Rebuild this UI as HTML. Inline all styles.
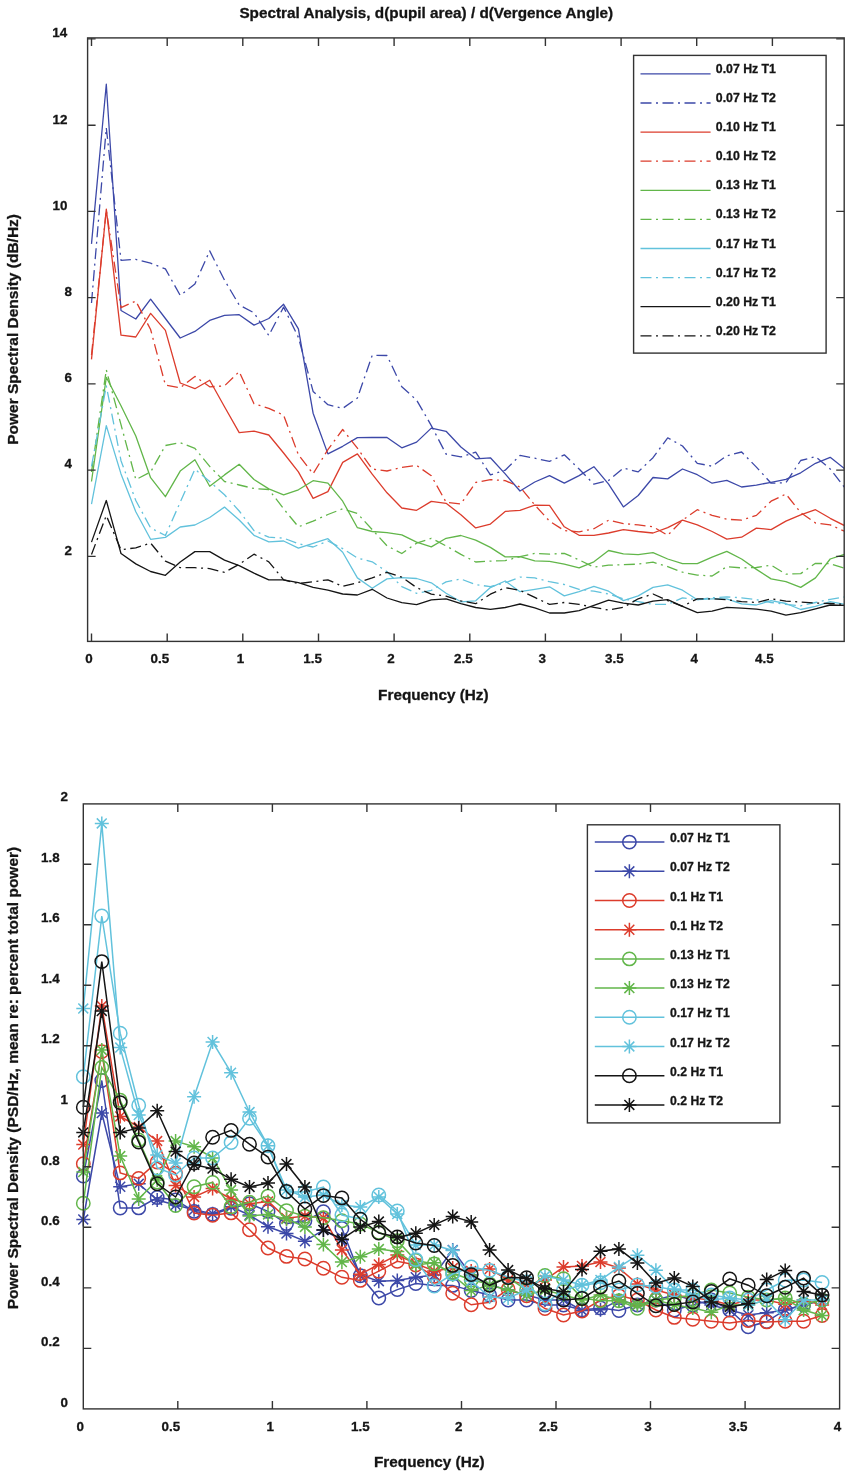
<!DOCTYPE html><html><head><meta charset="utf-8"><title>Spectral Analysis</title><style>html,body{margin:0;padding:0;background:#fff;width:851px;height:1478px;overflow:hidden}svg{display:block;will-change:transform}text{font-family:"Liberation Sans",sans-serif;font-weight:bold;fill:#141414;stroke:#141414;stroke-width:0.3px}</style></head><body>
<svg width="851" height="1478" viewBox="0 0 851 1478">
<rect width="851" height="1478" fill="#fff"/>
<defs><clipPath id="c1"><rect x="87.6" y="37.9" width="756.6" height="603.5"/></clipPath>
<clipPath id="c2"><rect x="75.3" y="795.9" width="772.3000000000001" height="621.0000000000001"/></clipPath></defs>
<g clip-path="url(#c1)" fill="none" stroke-width="1.3" stroke-linejoin="round">
<polyline stroke="#3c48a8" points="91.5,243.9 106.3,84.2 121.0,310.5 135.8,319.0 150.6,299.2 165.4,318.5 180.2,338.0 194.9,331.4 209.7,320.4 224.5,315.3 239.2,314.7 254.0,325.1 268.8,318.5 283.6,304.3 298.4,328.9 313.1,413.2 327.9,453.9 342.7,446.3 357.4,437.6 372.2,437.3 387.0,437.5 401.8,447.8 416.6,442.1 431.3,428.1 446.1,431.3 460.9,447.0 475.7,458.8 490.4,457.8 505.2,473.9 520.0,491.0 534.8,482.0 549.5,475.6 564.3,483.2 579.1,475.6 593.9,466.7 608.6,484.2 623.4,506.9 638.2,495.5 653.0,477.5 667.7,478.9 682.5,469.0 697.3,474.7 712.1,483.2 726.8,480.4 741.6,487.0 756.4,485.1 771.1,482.3 785.9,479.4 800.7,472.8 815.5,463.3 830.2,457.3 845.0,469.0"/>
<polyline stroke="#3c48a8" stroke-dasharray="11 4.5 2 4.5" points="91.5,303.0 106.3,127.8 121.0,260.3 135.8,259.4 150.6,263.2 165.4,268.9 180.2,295.4 194.9,284.0 209.7,250.9 224.5,280.2 239.2,305.0 254.0,312.8 268.8,335.5 283.6,307.1 298.4,337.4 313.1,391.4 327.9,404.7 342.7,408.4 357.4,398.0 372.2,355.4 387.0,355.5 401.8,386.8 416.6,400.1 431.3,425.6 446.1,454.1 460.9,456.9 475.7,452.2 490.4,474.9 505.2,470.2 520.0,455.4 534.8,458.2 549.5,461.4 564.3,454.8 579.1,469.0 593.9,484.2 608.6,480.4 623.4,468.1 638.2,471.9 653.0,457.7 667.7,437.8 682.5,446.0 697.3,463.3 712.1,466.2 726.8,455.8 741.6,452.0 756.4,467.1 771.1,483.2 785.9,482.7 800.7,460.5 815.5,456.7 830.2,469.0 845.0,488.0"/>
<polyline stroke="#dc3c2c" points="91.5,359.4 106.3,209.2 121.0,335.2 135.8,337.0 150.6,313.4 165.4,330.4 180.2,383.0 194.9,388.7 209.7,380.2 224.5,406.7 239.2,432.6 254.0,431.2 268.8,435.0 283.6,453.0 298.4,471.9 313.1,498.4 327.9,491.6 342.7,462.4 357.4,453.9 372.2,474.2 387.0,492.8 401.8,508.0 416.6,510.3 431.3,501.4 446.1,503.3 460.9,514.7 475.7,527.9 490.4,524.1 505.2,511.4 520.0,510.3 534.8,505.1 549.5,505.4 564.3,526.8 579.1,535.3 593.9,535.3 608.6,533.0 623.4,529.6 638.2,531.5 653.0,533.0 667.7,527.7 682.5,520.2 697.3,524.9 712.1,531.5 726.8,539.1 741.6,537.2 756.4,528.1 771.1,529.6 785.9,521.1 800.7,514.8 815.5,509.7 830.2,518.3 845.0,525.8"/>
<polyline stroke="#dc3c2c" stroke-dasharray="11 4.5 2 4.5" points="91.5,355.0 106.3,210.0 121.0,307.7 135.8,301.0 150.6,329.5 165.4,385.0 180.2,387.8 194.9,376.4 209.7,386.8 224.5,385.9 239.2,371.6 254.0,403.7 268.8,408.4 283.6,415.1 298.4,454.8 313.1,473.8 327.9,449.6 342.7,429.5 357.4,448.2 372.2,469.0 387.0,471.0 401.8,467.3 416.6,465.4 431.3,475.8 446.1,502.3 460.9,503.9 475.7,482.5 490.4,479.6 505.2,480.6 520.0,487.0 534.8,505.0 549.5,521.1 564.3,530.6 579.1,531.9 593.9,528.7 608.6,520.2 623.4,523.6 638.2,524.9 653.0,526.8 667.7,535.3 682.5,520.2 697.3,509.7 712.1,515.4 726.8,519.2 741.6,520.2 756.4,515.4 771.1,501.2 785.9,494.0 800.7,512.6 815.5,523.0 830.2,524.9 845.0,531.5"/>
<polyline stroke="#62b64a" points="91.5,481.5 106.3,377.3 121.0,405.8 135.8,436.0 150.6,477.7 165.4,496.7 180.2,471.1 194.9,459.7 209.7,486.3 224.5,474.9 239.2,464.3 254.0,479.5 268.8,488.9 283.6,494.9 298.4,489.8 313.1,480.7 327.9,483.2 342.7,501.2 357.4,527.7 372.2,531.5 387.0,532.6 401.8,534.9 416.6,542.1 431.3,546.9 446.1,538.3 460.9,535.5 475.7,540.2 490.4,547.4 505.2,556.9 520.0,556.7 534.8,560.9 549.5,561.4 564.3,564.1 579.1,567.9 593.9,561.8 608.6,550.5 623.4,553.9 638.2,554.6 653.0,552.7 667.7,559.0 682.5,563.7 697.3,563.7 712.1,557.1 726.8,551.4 741.6,559.0 756.4,569.4 771.1,578.9 785.9,581.7 800.7,587.4 815.5,577.9 830.2,559.0 845.0,554.2"/>
<polyline stroke="#62b64a" stroke-dasharray="11 4.5 2 4.5" points="91.5,472.0 106.3,369.8 121.0,424.7 135.8,479.6 150.6,472.0 165.4,445.5 180.2,442.7 194.9,448.4 209.7,466.4 224.5,481.5 239.2,485.0 254.0,488.5 268.8,489.5 283.6,508.8 298.4,526.8 313.1,521.1 327.9,514.5 342.7,508.8 357.4,513.5 372.2,529.6 387.0,545.8 401.8,553.5 416.6,543.1 431.3,538.3 446.1,545.9 460.9,554.4 475.7,562.0 490.4,561.1 505.2,560.7 520.0,556.6 534.8,553.4 549.5,554.2 564.3,553.3 579.1,559.9 593.9,567.1 608.6,565.2 623.4,564.7 638.2,564.1 653.0,562.2 667.7,566.6 682.5,572.2 697.3,575.1 712.1,576.0 726.8,566.6 741.6,567.9 756.4,567.5 771.1,565.2 785.9,574.1 800.7,573.6 815.5,563.3 830.2,563.7 845.0,568.4"/>
<polyline stroke="#62c2dc" points="91.5,504.2 106.3,425.6 121.0,473.9 135.8,511.8 150.6,539.3 165.4,537.4 180.2,527.0 194.9,525.0 209.7,517.5 224.5,507.1 239.2,520.0 254.0,535.3 268.8,541.9 283.6,541.0 298.4,548.2 313.1,543.3 327.9,538.7 342.7,552.3 357.4,577.9 372.2,588.3 387.0,578.9 401.8,577.7 416.6,578.5 431.3,582.8 446.1,593.3 460.9,601.8 475.7,600.8 490.4,587.6 505.2,581.0 520.0,591.7 534.8,589.3 549.5,586.8 564.3,595.9 579.1,591.7 593.9,586.4 608.6,591.2 623.4,600.6 638.2,595.9 653.0,587.4 667.7,584.9 682.5,590.2 697.3,599.7 712.1,598.8 726.8,598.8 741.6,603.9 756.4,605.0 771.1,600.6 785.9,603.5 800.7,609.5 815.5,606.3 830.2,601.6 845.0,604.4"/>
<polyline stroke="#62c2dc" stroke-dasharray="11 4.5 2 4.5" points="91.5,466.4 106.3,385.9 121.0,460.7 135.8,500.5 150.6,527.9 165.4,535.5 180.2,502.3 194.9,469.2 209.7,481.5 224.5,494.8 239.2,511.0 254.0,530.6 268.8,537.2 283.6,538.1 298.4,543.8 313.1,547.0 327.9,541.0 342.7,548.6 357.4,558.0 372.2,561.8 387.0,571.8 401.8,586.6 416.6,593.3 431.3,590.4 446.1,581.9 460.9,579.0 475.7,584.7 490.4,586.6 505.2,582.8 520.0,577.1 534.8,577.9 549.5,581.7 564.3,584.5 579.1,589.3 593.9,591.2 608.6,594.0 623.4,598.8 638.2,601.6 653.0,604.4 667.7,604.4 682.5,597.8 697.3,599.7 712.1,597.8 726.8,596.8 741.6,597.8 756.4,599.7 771.1,602.5 785.9,604.4 800.7,605.8 815.5,602.5 830.2,599.3 845.0,596.8"/>
<polyline stroke="#151515" points="91.5,542.1 106.3,500.5 121.0,553.5 135.8,563.9 150.6,571.5 165.4,575.3 180.2,562.0 194.9,551.6 209.7,551.6 224.5,560.1 239.2,565.7 254.0,573.2 268.8,579.8 283.6,579.8 298.4,582.7 313.1,587.4 327.9,590.2 342.7,594.0 357.4,595.0 372.2,589.3 387.0,598.0 401.8,602.7 416.6,604.6 431.3,599.9 446.1,598.9 460.9,603.7 475.7,607.5 490.4,609.4 505.2,607.5 520.0,604.0 534.8,607.8 549.5,613.0 564.3,613.0 579.1,610.7 593.9,605.4 608.6,600.1 623.4,603.1 638.2,605.0 653.0,601.2 667.7,599.7 682.5,606.3 697.3,612.6 712.1,611.1 726.8,607.3 741.6,608.2 756.4,609.2 771.1,611.1 785.9,615.2 800.7,612.6 815.5,608.8 830.2,605.0 845.0,605.4"/>
<polyline stroke="#151515" stroke-dasharray="11 4.5 2 4.5" points="91.5,554.4 106.3,515.6 121.0,549.7 135.8,547.8 150.6,543.1 165.4,561.1 180.2,567.7 194.9,567.7 209.7,568.6 224.5,572.4 239.2,564.3 254.0,554.2 268.8,561.8 283.6,579.8 298.4,583.6 313.1,581.7 327.9,579.8 342.7,586.4 357.4,582.7 372.2,577.9 387.0,572.3 401.8,577.2 416.6,587.6 431.3,594.2 446.1,596.1 460.9,600.8 475.7,603.7 490.4,594.2 505.2,587.6 520.0,590.3 534.8,597.4 549.5,604.4 564.3,602.5 579.1,604.4 593.9,607.3 608.6,610.1 623.4,607.3 638.2,598.8 653.0,594.0 667.7,600.6 682.5,606.3 697.3,598.8 712.1,598.8 726.8,599.7 741.6,601.6 756.4,602.5 771.1,598.8 785.9,601.2 800.7,602.0 815.5,603.1 830.2,603.5 845.0,604.4"/>
</g>
<g stroke="#333333" stroke-width="1.4" fill="none">
<rect x="87.6" y="37.9" width="756.6" height="603.5"/>
<path d="M91.5,641.4v-8M91.5,37.9v8M167.2,641.4v-8M167.2,37.9v8M242.8,641.4v-8M242.8,37.9v8M318.5,641.4v-8M318.5,37.9v8M394.1,641.4v-8M394.1,37.9v8M469.8,641.4v-8M469.8,37.9v8M545.4,641.4v-8M545.4,37.9v8M621.1,641.4v-8M621.1,37.9v8M696.7,641.4v-8M696.7,37.9v8M772.4,641.4v-8M772.4,37.9v8M87.6,556.4h8M844.2,556.4h-8M87.6,470.1h8M844.2,470.1h-8M87.6,383.9h8M844.2,383.9h-8M87.6,297.6h8M844.2,297.6h-8M87.6,211.4h8M844.2,211.4h-8M87.6,125.2h8M844.2,125.2h-8M87.6,38.9h8M844.2,38.9h-8"/>
</g>
<text x="85.30" y="663.00" font-size="13.4">0</text>
<text x="150.60" y="663.00" font-size="13.4">0.5</text>
<text x="236.80" y="663.00" font-size="13.4">1</text>
<text x="303.30" y="663.00" font-size="13.4">1.5</text>
<text x="387.30" y="663.00" font-size="13.4">2</text>
<text x="454.00" y="663.00" font-size="13.4">2.5</text>
<text x="538.60" y="663.00" font-size="13.4">3</text>
<text x="605.00" y="663.00" font-size="13.4">3.5</text>
<text x="690.40" y="663.00" font-size="13.4">4</text>
<text x="755.10" y="663.00" font-size="13.4">4.5</text>
<text x="52.30" y="36.80" font-size="13.4">14</text>
<text x="52.60" y="123.60" font-size="13.4">12</text>
<text x="52.60" y="209.80" font-size="13.4">10</text>
<text x="64.60" y="295.90" font-size="13.4">8</text>
<text x="64.60" y="382.10" font-size="13.4">6</text>
<text x="64.60" y="468.40" font-size="13.4">4</text>
<text x="64.60" y="554.80" font-size="13.4">2</text>
<text x="239.40" y="17.60" font-size="15.3">Spectral Analysis, d(pupil area) / d(Vergence Angle)</text>
<text x="378.10" y="700.10" font-size="15.3">Frequency (Hz)</text>
<text transform="translate(18.3,444.8) rotate(-90)" x="0" y="0" font-size="15.5">Power Spectral Density (dB/Hz)</text>
<rect x="633.6" y="55.4" width="192.5" height="297.7" fill="#fff" stroke="#333333" stroke-width="1.4"/>
<line x1="640.5" y1="73.9" x2="710.6" y2="73.9" stroke="#3c48a8" stroke-width="1.3"/>
<text x="715.80" y="72.90" font-size="12.3">0.07 Hz T1</text>
<line x1="640.5" y1="103.0" x2="710.6" y2="103.0" stroke="#3c48a8" stroke-width="1.3" stroke-dasharray="11 4.5 2 4.5"/>
<text x="715.80" y="102.00" font-size="12.3">0.07 Hz T2</text>
<line x1="640.5" y1="132.1" x2="710.6" y2="132.1" stroke="#dc3c2c" stroke-width="1.3"/>
<text x="715.80" y="131.10" font-size="12.3">0.10 Hz T1</text>
<line x1="640.5" y1="161.2" x2="710.6" y2="161.2" stroke="#dc3c2c" stroke-width="1.3" stroke-dasharray="11 4.5 2 4.5"/>
<text x="715.80" y="160.20" font-size="12.3">0.10 Hz T2</text>
<line x1="640.5" y1="190.3" x2="710.6" y2="190.3" stroke="#62b64a" stroke-width="1.3"/>
<text x="715.80" y="189.30" font-size="12.3">0.13 Hz T1</text>
<line x1="640.5" y1="219.4" x2="710.6" y2="219.4" stroke="#62b64a" stroke-width="1.3" stroke-dasharray="11 4.5 2 4.5"/>
<text x="715.80" y="218.40" font-size="12.3">0.13 Hz T2</text>
<line x1="640.5" y1="248.5" x2="710.6" y2="248.5" stroke="#62c2dc" stroke-width="1.3"/>
<text x="715.80" y="247.50" font-size="12.3">0.17 Hz T1</text>
<line x1="640.5" y1="277.6" x2="710.6" y2="277.6" stroke="#62c2dc" stroke-width="1.3" stroke-dasharray="11 4.5 2 4.5"/>
<text x="715.80" y="276.60" font-size="12.3">0.17 Hz T2</text>
<line x1="640.5" y1="306.7" x2="710.6" y2="306.7" stroke="#151515" stroke-width="1.3"/>
<text x="715.80" y="305.70" font-size="12.3">0.20 Hz T1</text>
<line x1="640.5" y1="335.8" x2="710.6" y2="335.8" stroke="#151515" stroke-width="1.3" stroke-dasharray="11 4.5 2 4.5"/>
<text x="715.80" y="334.80" font-size="12.3">0.20 Hz T2</text>
<g clip-path="url(#c2)" fill="none" stroke-width="1.5">
<polyline stroke="#3c48a8" points="83.3,1176.0 101.8,1080.5 120.2,1208.0 138.7,1207.9 157.2,1197.5 175.6,1200.0 194.1,1211.4 212.6,1214.4 231.1,1208.3 249.5,1203.7 268.0,1211.4 286.5,1223.6 304.9,1220.8 323.4,1211.7 341.9,1228.5 360.3,1275.8 378.8,1298.0 397.3,1289.6 415.8,1283.6 434.2,1285.4 452.7,1285.4 471.2,1290.6 489.6,1295.0 508.1,1300.0 526.6,1300.0 545.0,1305.0 563.5,1305.0 582.0,1310.0 600.5,1308.0 618.9,1310.5 637.4,1305.0 655.9,1300.0 674.3,1310.0 692.8,1305.0 711.3,1300.0 729.7,1310.0 748.2,1326.8 766.7,1321.6 785.2,1309.9 803.6,1305.0 822.1,1300.0"/>
<circle cx="83.3" cy="1176.0" r="6.7" stroke="#3c48a8"/><circle cx="101.8" cy="1080.5" r="6.7" stroke="#3c48a8"/><circle cx="120.2" cy="1208.0" r="6.7" stroke="#3c48a8"/><circle cx="138.7" cy="1207.9" r="6.7" stroke="#3c48a8"/><circle cx="157.2" cy="1197.5" r="6.7" stroke="#3c48a8"/><circle cx="175.6" cy="1200.0" r="6.7" stroke="#3c48a8"/><circle cx="194.1" cy="1211.4" r="6.7" stroke="#3c48a8"/><circle cx="212.6" cy="1214.4" r="6.7" stroke="#3c48a8"/><circle cx="231.1" cy="1208.3" r="6.7" stroke="#3c48a8"/><circle cx="249.5" cy="1203.7" r="6.7" stroke="#3c48a8"/><circle cx="268.0" cy="1211.4" r="6.7" stroke="#3c48a8"/><circle cx="286.5" cy="1223.6" r="6.7" stroke="#3c48a8"/><circle cx="304.9" cy="1220.8" r="6.7" stroke="#3c48a8"/><circle cx="323.4" cy="1211.7" r="6.7" stroke="#3c48a8"/><circle cx="341.9" cy="1228.5" r="6.7" stroke="#3c48a8"/><circle cx="360.3" cy="1275.8" r="6.7" stroke="#3c48a8"/><circle cx="378.8" cy="1298.0" r="6.7" stroke="#3c48a8"/><circle cx="397.3" cy="1289.6" r="6.7" stroke="#3c48a8"/><circle cx="415.8" cy="1283.6" r="6.7" stroke="#3c48a8"/><circle cx="434.2" cy="1285.4" r="6.7" stroke="#3c48a8"/><circle cx="452.7" cy="1285.4" r="6.7" stroke="#3c48a8"/><circle cx="471.2" cy="1290.6" r="6.7" stroke="#3c48a8"/><circle cx="489.6" cy="1295.0" r="6.7" stroke="#3c48a8"/><circle cx="508.1" cy="1300.0" r="6.7" stroke="#3c48a8"/><circle cx="526.6" cy="1300.0" r="6.7" stroke="#3c48a8"/><circle cx="545.0" cy="1305.0" r="6.7" stroke="#3c48a8"/><circle cx="563.5" cy="1305.0" r="6.7" stroke="#3c48a8"/><circle cx="582.0" cy="1310.0" r="6.7" stroke="#3c48a8"/><circle cx="600.5" cy="1308.0" r="6.7" stroke="#3c48a8"/><circle cx="618.9" cy="1310.5" r="6.7" stroke="#3c48a8"/><circle cx="637.4" cy="1305.0" r="6.7" stroke="#3c48a8"/><circle cx="655.9" cy="1300.0" r="6.7" stroke="#3c48a8"/><circle cx="674.3" cy="1310.0" r="6.7" stroke="#3c48a8"/><circle cx="692.8" cy="1305.0" r="6.7" stroke="#3c48a8"/><circle cx="711.3" cy="1300.0" r="6.7" stroke="#3c48a8"/><circle cx="729.7" cy="1310.0" r="6.7" stroke="#3c48a8"/><circle cx="748.2" cy="1326.8" r="6.7" stroke="#3c48a8"/><circle cx="766.7" cy="1321.6" r="6.7" stroke="#3c48a8"/><circle cx="785.2" cy="1309.9" r="6.7" stroke="#3c48a8"/><circle cx="803.6" cy="1305.0" r="6.7" stroke="#3c48a8"/><circle cx="822.1" cy="1300.0" r="6.7" stroke="#3c48a8"/>
<polyline stroke="#3c48a8" points="83.3,1219.5 101.8,1113.0 120.2,1186.7 138.7,1183.8 157.2,1200.0 175.6,1205.0 194.1,1209.8 212.6,1213.7 231.1,1206.8 249.5,1215.0 268.0,1226.7 286.5,1233.5 304.9,1241.2 323.4,1230.0 341.9,1240.0 360.3,1275.0 378.8,1281.2 397.3,1280.4 415.8,1277.3 434.2,1275.0 452.7,1250.0 471.2,1275.0 489.6,1285.0 508.1,1290.0 526.6,1295.0 545.0,1300.0 563.5,1300.0 582.0,1310.5 600.5,1309.8 618.9,1300.0 637.4,1305.0 655.9,1300.0 674.3,1295.0 692.8,1300.0 711.3,1305.0 729.7,1310.0 748.2,1315.0 766.7,1312.7 785.2,1310.0 803.6,1305.0 822.1,1300.0"/>
<path stroke="#3c48a8" d="M76.3,1219.5h14.0M83.3,1212.5v14.0M78.3,1214.5l9.9,9.9M78.3,1224.5l9.9,-9.9"/><path stroke="#3c48a8" d="M94.8,1113.0h14.0M101.8,1106.0v14.0M96.8,1108.0l9.9,9.9M96.8,1118.0l9.9,-9.9"/><path stroke="#3c48a8" d="M113.2,1186.7h14.0M120.2,1179.7v14.0M115.3,1181.8l9.9,9.9M115.3,1191.7l9.9,-9.9"/><path stroke="#3c48a8" d="M131.7,1183.8h14.0M138.7,1176.8v14.0M133.8,1178.8l9.9,9.9M133.8,1188.8l9.9,-9.9"/><path stroke="#3c48a8" d="M150.2,1200.0h14.0M157.2,1193.0v14.0M152.2,1195.0l9.9,9.9M152.2,1205.0l9.9,-9.9"/><path stroke="#3c48a8" d="M168.6,1205.0h14.0M175.6,1198.0v14.0M170.7,1200.0l9.9,9.9M170.7,1210.0l9.9,-9.9"/><path stroke="#3c48a8" d="M187.1,1209.8h14.0M194.1,1202.8v14.0M189.2,1204.8l9.9,9.9M189.2,1214.8l9.9,-9.9"/><path stroke="#3c48a8" d="M205.6,1213.7h14.0M212.6,1206.7v14.0M207.6,1208.8l9.9,9.9M207.6,1218.7l9.9,-9.9"/><path stroke="#3c48a8" d="M224.1,1206.8h14.0M231.1,1199.8v14.0M226.1,1201.8l9.9,9.9M226.1,1211.8l9.9,-9.9"/><path stroke="#3c48a8" d="M242.5,1215.0h14.0M249.5,1208.0v14.0M244.6,1210.0l9.9,9.9M244.6,1220.0l9.9,-9.9"/><path stroke="#3c48a8" d="M261.0,1226.7h14.0M268.0,1219.7v14.0M263.1,1221.8l9.9,9.9M263.1,1231.7l9.9,-9.9"/><path stroke="#3c48a8" d="M279.5,1233.5h14.0M286.5,1226.5v14.0M281.5,1228.5l9.9,9.9M281.5,1238.5l9.9,-9.9"/><path stroke="#3c48a8" d="M297.9,1241.2h14.0M304.9,1234.2v14.0M300.0,1236.2l9.9,9.9M300.0,1246.2l9.9,-9.9"/><path stroke="#3c48a8" d="M316.4,1230.0h14.0M323.4,1223.0v14.0M318.5,1225.0l9.9,9.9M318.5,1235.0l9.9,-9.9"/><path stroke="#3c48a8" d="M334.9,1240.0h14.0M341.9,1233.0v14.0M336.9,1235.0l9.9,9.9M336.9,1245.0l9.9,-9.9"/><path stroke="#3c48a8" d="M353.3,1275.0h14.0M360.3,1268.0v14.0M355.4,1270.0l9.9,9.9M355.4,1280.0l9.9,-9.9"/><path stroke="#3c48a8" d="M371.8,1281.2h14.0M378.8,1274.2v14.0M373.9,1276.2l9.9,9.9M373.9,1286.2l9.9,-9.9"/><path stroke="#3c48a8" d="M390.3,1280.4h14.0M397.3,1273.4v14.0M392.3,1275.5l9.9,9.9M392.3,1285.4l9.9,-9.9"/><path stroke="#3c48a8" d="M408.8,1277.3h14.0M415.8,1270.3v14.0M410.8,1272.3l9.9,9.9M410.8,1282.2l9.9,-9.9"/><path stroke="#3c48a8" d="M427.2,1275.0h14.0M434.2,1268.0v14.0M429.3,1270.0l9.9,9.9M429.3,1280.0l9.9,-9.9"/><path stroke="#3c48a8" d="M445.7,1250.0h14.0M452.7,1243.0v14.0M447.8,1245.0l9.9,9.9M447.8,1255.0l9.9,-9.9"/><path stroke="#3c48a8" d="M464.2,1275.0h14.0M471.2,1268.0v14.0M466.2,1270.0l9.9,9.9M466.2,1280.0l9.9,-9.9"/><path stroke="#3c48a8" d="M482.6,1285.0h14.0M489.6,1278.0v14.0M484.7,1280.0l9.9,9.9M484.7,1290.0l9.9,-9.9"/><path stroke="#3c48a8" d="M501.1,1290.0h14.0M508.1,1283.0v14.0M503.2,1285.0l9.9,9.9M503.2,1295.0l9.9,-9.9"/><path stroke="#3c48a8" d="M519.6,1295.0h14.0M526.6,1288.0v14.0M521.6,1290.0l9.9,9.9M521.6,1300.0l9.9,-9.9"/><path stroke="#3c48a8" d="M538.0,1300.0h14.0M545.0,1293.0v14.0M540.1,1295.0l9.9,9.9M540.1,1305.0l9.9,-9.9"/><path stroke="#3c48a8" d="M556.5,1300.0h14.0M563.5,1293.0v14.0M558.6,1295.0l9.9,9.9M558.6,1305.0l9.9,-9.9"/><path stroke="#3c48a8" d="M575.0,1310.5h14.0M582.0,1303.5v14.0M577.0,1305.5l9.9,9.9M577.0,1315.5l9.9,-9.9"/><path stroke="#3c48a8" d="M593.5,1309.8h14.0M600.5,1302.8v14.0M595.5,1304.8l9.9,9.9M595.5,1314.8l9.9,-9.9"/><path stroke="#3c48a8" d="M611.9,1300.0h14.0M618.9,1293.0v14.0M614.0,1295.0l9.9,9.9M614.0,1305.0l9.9,-9.9"/><path stroke="#3c48a8" d="M630.4,1305.0h14.0M637.4,1298.0v14.0M632.4,1300.0l9.9,9.9M632.4,1310.0l9.9,-9.9"/><path stroke="#3c48a8" d="M648.9,1300.0h14.0M655.9,1293.0v14.0M650.9,1295.0l9.9,9.9M650.9,1305.0l9.9,-9.9"/><path stroke="#3c48a8" d="M667.3,1295.0h14.0M674.3,1288.0v14.0M669.4,1290.0l9.9,9.9M669.4,1300.0l9.9,-9.9"/><path stroke="#3c48a8" d="M685.8,1300.0h14.0M692.8,1293.0v14.0M687.9,1295.0l9.9,9.9M687.9,1305.0l9.9,-9.9"/><path stroke="#3c48a8" d="M704.3,1305.0h14.0M711.3,1298.0v14.0M706.3,1300.0l9.9,9.9M706.3,1310.0l9.9,-9.9"/><path stroke="#3c48a8" d="M722.7,1310.0h14.0M729.7,1303.0v14.0M724.8,1305.0l9.9,9.9M724.8,1315.0l9.9,-9.9"/><path stroke="#3c48a8" d="M741.2,1315.0h14.0M748.2,1308.0v14.0M743.3,1310.0l9.9,9.9M743.3,1320.0l9.9,-9.9"/><path stroke="#3c48a8" d="M759.7,1312.7h14.0M766.7,1305.7v14.0M761.7,1307.8l9.9,9.9M761.7,1317.7l9.9,-9.9"/><path stroke="#3c48a8" d="M778.2,1310.0h14.0M785.2,1303.0v14.0M780.2,1305.0l9.9,9.9M780.2,1315.0l9.9,-9.9"/><path stroke="#3c48a8" d="M796.6,1305.0h14.0M803.6,1298.0v14.0M798.7,1300.0l9.9,9.9M798.7,1310.0l9.9,-9.9"/><path stroke="#3c48a8" d="M815.1,1300.0h14.0M822.1,1293.0v14.0M817.1,1295.0l9.9,9.9M817.1,1305.0l9.9,-9.9"/>
<polyline stroke="#dc3c2c" points="83.3,1163.7 101.8,1051.6 120.2,1172.9 138.7,1178.4 157.2,1162.0 175.6,1173.3 194.1,1213.0 212.6,1215.2 231.1,1212.9 249.5,1229.7 268.0,1248.0 286.5,1256.4 304.9,1259.0 323.4,1268.2 341.9,1277.3 360.3,1280.4 378.8,1271.2 397.3,1261.3 415.8,1265.0 434.2,1276.4 452.7,1293.2 471.2,1304.8 489.6,1302.2 508.1,1289.3 526.6,1295.8 545.0,1308.5 563.5,1315.0 582.0,1311.1 600.5,1300.0 618.9,1295.6 637.4,1300.0 655.9,1310.0 674.3,1317.4 692.8,1319.3 711.3,1321.3 729.7,1323.0 748.2,1320.5 766.7,1321.9 785.2,1321.2 803.6,1321.2 822.1,1315.5"/>
<circle cx="83.3" cy="1163.7" r="6.7" stroke="#dc3c2c"/><circle cx="101.8" cy="1051.6" r="6.7" stroke="#dc3c2c"/><circle cx="120.2" cy="1172.9" r="6.7" stroke="#dc3c2c"/><circle cx="138.7" cy="1178.4" r="6.7" stroke="#dc3c2c"/><circle cx="157.2" cy="1162.0" r="6.7" stroke="#dc3c2c"/><circle cx="175.6" cy="1173.3" r="6.7" stroke="#dc3c2c"/><circle cx="194.1" cy="1213.0" r="6.7" stroke="#dc3c2c"/><circle cx="212.6" cy="1215.2" r="6.7" stroke="#dc3c2c"/><circle cx="231.1" cy="1212.9" r="6.7" stroke="#dc3c2c"/><circle cx="249.5" cy="1229.7" r="6.7" stroke="#dc3c2c"/><circle cx="268.0" cy="1248.0" r="6.7" stroke="#dc3c2c"/><circle cx="286.5" cy="1256.4" r="6.7" stroke="#dc3c2c"/><circle cx="304.9" cy="1259.0" r="6.7" stroke="#dc3c2c"/><circle cx="323.4" cy="1268.2" r="6.7" stroke="#dc3c2c"/><circle cx="341.9" cy="1277.3" r="6.7" stroke="#dc3c2c"/><circle cx="360.3" cy="1280.4" r="6.7" stroke="#dc3c2c"/><circle cx="378.8" cy="1271.2" r="6.7" stroke="#dc3c2c"/><circle cx="397.3" cy="1261.3" r="6.7" stroke="#dc3c2c"/><circle cx="415.8" cy="1265.0" r="6.7" stroke="#dc3c2c"/><circle cx="434.2" cy="1276.4" r="6.7" stroke="#dc3c2c"/><circle cx="452.7" cy="1293.2" r="6.7" stroke="#dc3c2c"/><circle cx="471.2" cy="1304.8" r="6.7" stroke="#dc3c2c"/><circle cx="489.6" cy="1302.2" r="6.7" stroke="#dc3c2c"/><circle cx="508.1" cy="1289.3" r="6.7" stroke="#dc3c2c"/><circle cx="526.6" cy="1295.8" r="6.7" stroke="#dc3c2c"/><circle cx="545.0" cy="1308.5" r="6.7" stroke="#dc3c2c"/><circle cx="563.5" cy="1315.0" r="6.7" stroke="#dc3c2c"/><circle cx="582.0" cy="1311.1" r="6.7" stroke="#dc3c2c"/><circle cx="600.5" cy="1300.0" r="6.7" stroke="#dc3c2c"/><circle cx="618.9" cy="1295.6" r="6.7" stroke="#dc3c2c"/><circle cx="637.4" cy="1300.0" r="6.7" stroke="#dc3c2c"/><circle cx="655.9" cy="1310.0" r="6.7" stroke="#dc3c2c"/><circle cx="674.3" cy="1317.4" r="6.7" stroke="#dc3c2c"/><circle cx="692.8" cy="1319.3" r="6.7" stroke="#dc3c2c"/><circle cx="711.3" cy="1321.3" r="6.7" stroke="#dc3c2c"/><circle cx="729.7" cy="1323.0" r="6.7" stroke="#dc3c2c"/><circle cx="748.2" cy="1320.5" r="6.7" stroke="#dc3c2c"/><circle cx="766.7" cy="1321.9" r="6.7" stroke="#dc3c2c"/><circle cx="785.2" cy="1321.2" r="6.7" stroke="#dc3c2c"/><circle cx="803.6" cy="1321.2" r="6.7" stroke="#dc3c2c"/><circle cx="822.1" cy="1315.5" r="6.7" stroke="#dc3c2c"/>
<polyline stroke="#dc3c2c" points="83.3,1144.6 101.8,1006.0 120.2,1116.4 138.7,1127.0 157.2,1141.0 175.6,1185.6 194.1,1197.0 212.6,1188.5 231.1,1199.0 249.5,1203.7 268.0,1201.4 286.5,1218.3 304.9,1216.0 323.4,1217.8 341.9,1249.9 360.3,1274.3 378.8,1264.4 397.3,1255.0 415.8,1263.6 434.2,1271.0 452.7,1268.0 471.2,1271.0 489.6,1269.0 508.1,1280.0 526.6,1285.0 545.0,1280.0 563.5,1267.0 582.0,1266.0 600.5,1262.0 618.9,1268.0 637.4,1284.0 655.9,1290.0 674.3,1295.0 692.8,1298.0 711.3,1300.0 729.7,1305.0 748.2,1300.0 766.7,1300.0 785.2,1304.2 803.6,1300.0 822.1,1305.0"/>
<path stroke="#dc3c2c" d="M76.3,1144.6h14.0M83.3,1137.6v14.0M78.3,1139.6l9.9,9.9M78.3,1149.5l9.9,-9.9"/><path stroke="#dc3c2c" d="M94.8,1006.0h14.0M101.8,999.0v14.0M96.8,1001.0l9.9,9.9M96.8,1011.0l9.9,-9.9"/><path stroke="#dc3c2c" d="M113.2,1116.4h14.0M120.2,1109.4v14.0M115.3,1111.5l9.9,9.9M115.3,1121.4l9.9,-9.9"/><path stroke="#dc3c2c" d="M131.7,1127.0h14.0M138.7,1120.0v14.0M133.8,1122.0l9.9,9.9M133.8,1132.0l9.9,-9.9"/><path stroke="#dc3c2c" d="M150.2,1141.0h14.0M157.2,1134.0v14.0M152.2,1136.0l9.9,9.9M152.2,1146.0l9.9,-9.9"/><path stroke="#dc3c2c" d="M168.6,1185.6h14.0M175.6,1178.6v14.0M170.7,1180.6l9.9,9.9M170.7,1190.5l9.9,-9.9"/><path stroke="#dc3c2c" d="M187.1,1197.0h14.0M194.1,1190.0v14.0M189.2,1192.0l9.9,9.9M189.2,1202.0l9.9,-9.9"/><path stroke="#dc3c2c" d="M205.6,1188.5h14.0M212.6,1181.5v14.0M207.6,1183.5l9.9,9.9M207.6,1193.5l9.9,-9.9"/><path stroke="#dc3c2c" d="M224.1,1199.0h14.0M231.1,1192.0v14.0M226.1,1194.0l9.9,9.9M226.1,1204.0l9.9,-9.9"/><path stroke="#dc3c2c" d="M242.5,1203.7h14.0M249.5,1196.7v14.0M244.6,1198.8l9.9,9.9M244.6,1208.7l9.9,-9.9"/><path stroke="#dc3c2c" d="M261.0,1201.4h14.0M268.0,1194.4v14.0M263.1,1196.5l9.9,9.9M263.1,1206.4l9.9,-9.9"/><path stroke="#dc3c2c" d="M279.5,1218.3h14.0M286.5,1211.3v14.0M281.5,1213.3l9.9,9.9M281.5,1223.2l9.9,-9.9"/><path stroke="#dc3c2c" d="M297.9,1216.0h14.0M304.9,1209.0v14.0M300.0,1211.0l9.9,9.9M300.0,1221.0l9.9,-9.9"/><path stroke="#dc3c2c" d="M316.4,1217.8h14.0M323.4,1210.8v14.0M318.5,1212.8l9.9,9.9M318.5,1222.8l9.9,-9.9"/><path stroke="#dc3c2c" d="M334.9,1249.9h14.0M341.9,1242.9v14.0M336.9,1245.0l9.9,9.9M336.9,1254.9l9.9,-9.9"/><path stroke="#dc3c2c" d="M353.3,1274.3h14.0M360.3,1267.3v14.0M355.4,1269.3l9.9,9.9M355.4,1279.2l9.9,-9.9"/><path stroke="#dc3c2c" d="M371.8,1264.4h14.0M378.8,1257.4v14.0M373.9,1259.5l9.9,9.9M373.9,1269.4l9.9,-9.9"/><path stroke="#dc3c2c" d="M390.3,1255.0h14.0M397.3,1248.0v14.0M392.3,1250.0l9.9,9.9M392.3,1260.0l9.9,-9.9"/><path stroke="#dc3c2c" d="M408.8,1263.6h14.0M415.8,1256.6v14.0M410.8,1258.6l9.9,9.9M410.8,1268.5l9.9,-9.9"/><path stroke="#dc3c2c" d="M427.2,1271.0h14.0M434.2,1264.0v14.0M429.3,1266.0l9.9,9.9M429.3,1276.0l9.9,-9.9"/><path stroke="#dc3c2c" d="M445.7,1268.0h14.0M452.7,1261.0v14.0M447.8,1263.0l9.9,9.9M447.8,1273.0l9.9,-9.9"/><path stroke="#dc3c2c" d="M464.2,1271.0h14.0M471.2,1264.0v14.0M466.2,1266.0l9.9,9.9M466.2,1276.0l9.9,-9.9"/><path stroke="#dc3c2c" d="M482.6,1269.0h14.0M489.6,1262.0v14.0M484.7,1264.0l9.9,9.9M484.7,1274.0l9.9,-9.9"/><path stroke="#dc3c2c" d="M501.1,1280.0h14.0M508.1,1273.0v14.0M503.2,1275.0l9.9,9.9M503.2,1285.0l9.9,-9.9"/><path stroke="#dc3c2c" d="M519.6,1285.0h14.0M526.6,1278.0v14.0M521.6,1280.0l9.9,9.9M521.6,1290.0l9.9,-9.9"/><path stroke="#dc3c2c" d="M538.0,1280.0h14.0M545.0,1273.0v14.0M540.1,1275.0l9.9,9.9M540.1,1285.0l9.9,-9.9"/><path stroke="#dc3c2c" d="M556.5,1267.0h14.0M563.5,1260.0v14.0M558.6,1262.0l9.9,9.9M558.6,1272.0l9.9,-9.9"/><path stroke="#dc3c2c" d="M575.0,1266.0h14.0M582.0,1259.0v14.0M577.0,1261.0l9.9,9.9M577.0,1271.0l9.9,-9.9"/><path stroke="#dc3c2c" d="M593.5,1262.0h14.0M600.5,1255.0v14.0M595.5,1257.0l9.9,9.9M595.5,1267.0l9.9,-9.9"/><path stroke="#dc3c2c" d="M611.9,1268.0h14.0M618.9,1261.0v14.0M614.0,1263.0l9.9,9.9M614.0,1273.0l9.9,-9.9"/><path stroke="#dc3c2c" d="M630.4,1284.0h14.0M637.4,1277.0v14.0M632.4,1279.0l9.9,9.9M632.4,1289.0l9.9,-9.9"/><path stroke="#dc3c2c" d="M648.9,1290.0h14.0M655.9,1283.0v14.0M650.9,1285.0l9.9,9.9M650.9,1295.0l9.9,-9.9"/><path stroke="#dc3c2c" d="M667.3,1295.0h14.0M674.3,1288.0v14.0M669.4,1290.0l9.9,9.9M669.4,1300.0l9.9,-9.9"/><path stroke="#dc3c2c" d="M685.8,1298.0h14.0M692.8,1291.0v14.0M687.9,1293.0l9.9,9.9M687.9,1303.0l9.9,-9.9"/><path stroke="#dc3c2c" d="M704.3,1300.0h14.0M711.3,1293.0v14.0M706.3,1295.0l9.9,9.9M706.3,1305.0l9.9,-9.9"/><path stroke="#dc3c2c" d="M722.7,1305.0h14.0M729.7,1298.0v14.0M724.8,1300.0l9.9,9.9M724.8,1310.0l9.9,-9.9"/><path stroke="#dc3c2c" d="M741.2,1300.0h14.0M748.2,1293.0v14.0M743.3,1295.0l9.9,9.9M743.3,1305.0l9.9,-9.9"/><path stroke="#dc3c2c" d="M759.7,1300.0h14.0M766.7,1293.0v14.0M761.7,1295.0l9.9,9.9M761.7,1305.0l9.9,-9.9"/><path stroke="#dc3c2c" d="M778.2,1304.2h14.0M785.2,1297.2v14.0M780.2,1299.2l9.9,9.9M780.2,1309.2l9.9,-9.9"/><path stroke="#dc3c2c" d="M796.6,1300.0h14.0M803.6,1293.0v14.0M798.7,1295.0l9.9,9.9M798.7,1305.0l9.9,-9.9"/><path stroke="#dc3c2c" d="M815.1,1305.0h14.0M822.1,1298.0v14.0M817.1,1300.0l9.9,9.9M817.1,1310.0l9.9,-9.9"/>
<polyline stroke="#62b64a" points="83.3,1203.2 101.8,1067.5 120.2,1100.3 138.7,1140.0 157.2,1182.0 175.6,1205.5 194.1,1186.7 212.6,1182.4 231.1,1206.8 249.5,1202.2 268.0,1196.1 286.5,1210.6 304.9,1216.2 323.4,1217.8 341.9,1220.8 360.3,1224.0 378.8,1232.3 397.3,1240.7 415.8,1260.5 434.2,1263.9 452.7,1273.0 471.2,1280.0 489.6,1284.0 508.1,1277.7 526.6,1290.0 545.0,1275.5 563.5,1278.8 582.0,1298.0 600.5,1300.8 618.9,1300.8 637.4,1308.3 655.9,1300.0 674.3,1298.0 692.8,1295.0 711.3,1290.0 729.7,1293.0 748.2,1297.2 766.7,1300.0 785.2,1298.0 803.6,1304.2 822.1,1300.0"/>
<circle cx="83.3" cy="1203.2" r="6.7" stroke="#62b64a"/><circle cx="101.8" cy="1067.5" r="6.7" stroke="#62b64a"/><circle cx="120.2" cy="1100.3" r="6.7" stroke="#62b64a"/><circle cx="138.7" cy="1140.0" r="6.7" stroke="#62b64a"/><circle cx="157.2" cy="1182.0" r="6.7" stroke="#62b64a"/><circle cx="175.6" cy="1205.5" r="6.7" stroke="#62b64a"/><circle cx="194.1" cy="1186.7" r="6.7" stroke="#62b64a"/><circle cx="212.6" cy="1182.4" r="6.7" stroke="#62b64a"/><circle cx="231.1" cy="1206.8" r="6.7" stroke="#62b64a"/><circle cx="249.5" cy="1202.2" r="6.7" stroke="#62b64a"/><circle cx="268.0" cy="1196.1" r="6.7" stroke="#62b64a"/><circle cx="286.5" cy="1210.6" r="6.7" stroke="#62b64a"/><circle cx="304.9" cy="1216.2" r="6.7" stroke="#62b64a"/><circle cx="323.4" cy="1217.8" r="6.7" stroke="#62b64a"/><circle cx="341.9" cy="1220.8" r="6.7" stroke="#62b64a"/><circle cx="360.3" cy="1224.0" r="6.7" stroke="#62b64a"/><circle cx="378.8" cy="1232.3" r="6.7" stroke="#62b64a"/><circle cx="397.3" cy="1240.7" r="6.7" stroke="#62b64a"/><circle cx="415.8" cy="1260.5" r="6.7" stroke="#62b64a"/><circle cx="434.2" cy="1263.9" r="6.7" stroke="#62b64a"/><circle cx="452.7" cy="1273.0" r="6.7" stroke="#62b64a"/><circle cx="471.2" cy="1280.0" r="6.7" stroke="#62b64a"/><circle cx="489.6" cy="1284.0" r="6.7" stroke="#62b64a"/><circle cx="508.1" cy="1277.7" r="6.7" stroke="#62b64a"/><circle cx="526.6" cy="1290.0" r="6.7" stroke="#62b64a"/><circle cx="545.0" cy="1275.5" r="6.7" stroke="#62b64a"/><circle cx="563.5" cy="1278.8" r="6.7" stroke="#62b64a"/><circle cx="582.0" cy="1298.0" r="6.7" stroke="#62b64a"/><circle cx="600.5" cy="1300.8" r="6.7" stroke="#62b64a"/><circle cx="618.9" cy="1300.8" r="6.7" stroke="#62b64a"/><circle cx="637.4" cy="1308.3" r="6.7" stroke="#62b64a"/><circle cx="655.9" cy="1300.0" r="6.7" stroke="#62b64a"/><circle cx="674.3" cy="1298.0" r="6.7" stroke="#62b64a"/><circle cx="692.8" cy="1295.0" r="6.7" stroke="#62b64a"/><circle cx="711.3" cy="1290.0" r="6.7" stroke="#62b64a"/><circle cx="729.7" cy="1293.0" r="6.7" stroke="#62b64a"/><circle cx="748.2" cy="1297.2" r="6.7" stroke="#62b64a"/><circle cx="766.7" cy="1300.0" r="6.7" stroke="#62b64a"/><circle cx="785.2" cy="1298.0" r="6.7" stroke="#62b64a"/><circle cx="803.6" cy="1304.2" r="6.7" stroke="#62b64a"/><circle cx="822.1" cy="1300.0" r="6.7" stroke="#62b64a"/>
<polyline stroke="#62b64a" points="83.3,1172.1 101.8,1050.0 120.2,1156.1 138.7,1198.9 157.2,1180.0 175.6,1141.1 194.1,1146.8 212.6,1157.9 231.1,1190.0 249.5,1216.0 268.0,1214.4 286.5,1219.0 304.9,1226.9 323.4,1244.5 341.9,1262.1 360.3,1256.7 378.8,1249.1 397.3,1251.4 415.8,1265.0 434.2,1262.8 452.7,1275.0 471.2,1290.6 489.6,1285.0 508.1,1290.0 526.6,1295.0 545.0,1290.0 563.5,1295.0 582.0,1300.0 600.5,1295.0 618.9,1300.0 637.4,1305.0 655.9,1300.0 674.3,1305.0 692.8,1308.0 711.3,1312.2 729.7,1305.0 748.2,1305.0 766.7,1300.0 785.2,1298.6 803.6,1310.0 822.1,1315.5"/>
<path stroke="#62b64a" d="M76.3,1172.1h14.0M83.3,1165.1v14.0M78.3,1167.1l9.9,9.9M78.3,1177.0l9.9,-9.9"/><path stroke="#62b64a" d="M94.8,1050.0h14.0M101.8,1043.0v14.0M96.8,1045.0l9.9,9.9M96.8,1055.0l9.9,-9.9"/><path stroke="#62b64a" d="M113.2,1156.1h14.0M120.2,1149.1v14.0M115.3,1151.1l9.9,9.9M115.3,1161.0l9.9,-9.9"/><path stroke="#62b64a" d="M131.7,1198.9h14.0M138.7,1191.9v14.0M133.8,1194.0l9.9,9.9M133.8,1203.9l9.9,-9.9"/><path stroke="#62b64a" d="M150.2,1180.0h14.0M157.2,1173.0v14.0M152.2,1175.0l9.9,9.9M152.2,1185.0l9.9,-9.9"/><path stroke="#62b64a" d="M168.6,1141.1h14.0M175.6,1134.1v14.0M170.7,1136.1l9.9,9.9M170.7,1146.0l9.9,-9.9"/><path stroke="#62b64a" d="M187.1,1146.8h14.0M194.1,1139.8v14.0M189.2,1141.8l9.9,9.9M189.2,1151.8l9.9,-9.9"/><path stroke="#62b64a" d="M205.6,1157.9h14.0M212.6,1150.9v14.0M207.6,1153.0l9.9,9.9M207.6,1162.9l9.9,-9.9"/><path stroke="#62b64a" d="M224.1,1190.0h14.0M231.1,1183.0v14.0M226.1,1185.0l9.9,9.9M226.1,1195.0l9.9,-9.9"/><path stroke="#62b64a" d="M242.5,1216.0h14.0M249.5,1209.0v14.0M244.6,1211.0l9.9,9.9M244.6,1221.0l9.9,-9.9"/><path stroke="#62b64a" d="M261.0,1214.4h14.0M268.0,1207.4v14.0M263.1,1209.5l9.9,9.9M263.1,1219.4l9.9,-9.9"/><path stroke="#62b64a" d="M279.5,1219.0h14.0M286.5,1212.0v14.0M281.5,1214.0l9.9,9.9M281.5,1224.0l9.9,-9.9"/><path stroke="#62b64a" d="M297.9,1226.9h14.0M304.9,1219.9v14.0M300.0,1222.0l9.9,9.9M300.0,1231.9l9.9,-9.9"/><path stroke="#62b64a" d="M316.4,1244.5h14.0M323.4,1237.5v14.0M318.5,1239.5l9.9,9.9M318.5,1249.5l9.9,-9.9"/><path stroke="#62b64a" d="M334.9,1262.1h14.0M341.9,1255.1v14.0M336.9,1257.1l9.9,9.9M336.9,1267.0l9.9,-9.9"/><path stroke="#62b64a" d="M353.3,1256.7h14.0M360.3,1249.7v14.0M355.4,1251.8l9.9,9.9M355.4,1261.7l9.9,-9.9"/><path stroke="#62b64a" d="M371.8,1249.1h14.0M378.8,1242.1v14.0M373.9,1244.1l9.9,9.9M373.9,1254.0l9.9,-9.9"/><path stroke="#62b64a" d="M390.3,1251.4h14.0M397.3,1244.4v14.0M392.3,1246.5l9.9,9.9M392.3,1256.4l9.9,-9.9"/><path stroke="#62b64a" d="M408.8,1265.0h14.0M415.8,1258.0v14.0M410.8,1260.0l9.9,9.9M410.8,1270.0l9.9,-9.9"/><path stroke="#62b64a" d="M427.2,1262.8h14.0M434.2,1255.8v14.0M429.3,1257.8l9.9,9.9M429.3,1267.8l9.9,-9.9"/><path stroke="#62b64a" d="M445.7,1275.0h14.0M452.7,1268.0v14.0M447.8,1270.0l9.9,9.9M447.8,1280.0l9.9,-9.9"/><path stroke="#62b64a" d="M464.2,1290.6h14.0M471.2,1283.6v14.0M466.2,1285.6l9.9,9.9M466.2,1295.5l9.9,-9.9"/><path stroke="#62b64a" d="M482.6,1285.0h14.0M489.6,1278.0v14.0M484.7,1280.0l9.9,9.9M484.7,1290.0l9.9,-9.9"/><path stroke="#62b64a" d="M501.1,1290.0h14.0M508.1,1283.0v14.0M503.2,1285.0l9.9,9.9M503.2,1295.0l9.9,-9.9"/><path stroke="#62b64a" d="M519.6,1295.0h14.0M526.6,1288.0v14.0M521.6,1290.0l9.9,9.9M521.6,1300.0l9.9,-9.9"/><path stroke="#62b64a" d="M538.0,1290.0h14.0M545.0,1283.0v14.0M540.1,1285.0l9.9,9.9M540.1,1295.0l9.9,-9.9"/><path stroke="#62b64a" d="M556.5,1295.0h14.0M563.5,1288.0v14.0M558.6,1290.0l9.9,9.9M558.6,1300.0l9.9,-9.9"/><path stroke="#62b64a" d="M575.0,1300.0h14.0M582.0,1293.0v14.0M577.0,1295.0l9.9,9.9M577.0,1305.0l9.9,-9.9"/><path stroke="#62b64a" d="M593.5,1295.0h14.0M600.5,1288.0v14.0M595.5,1290.0l9.9,9.9M595.5,1300.0l9.9,-9.9"/><path stroke="#62b64a" d="M611.9,1300.0h14.0M618.9,1293.0v14.0M614.0,1295.0l9.9,9.9M614.0,1305.0l9.9,-9.9"/><path stroke="#62b64a" d="M630.4,1305.0h14.0M637.4,1298.0v14.0M632.4,1300.0l9.9,9.9M632.4,1310.0l9.9,-9.9"/><path stroke="#62b64a" d="M648.9,1300.0h14.0M655.9,1293.0v14.0M650.9,1295.0l9.9,9.9M650.9,1305.0l9.9,-9.9"/><path stroke="#62b64a" d="M667.3,1305.0h14.0M674.3,1298.0v14.0M669.4,1300.0l9.9,9.9M669.4,1310.0l9.9,-9.9"/><path stroke="#62b64a" d="M685.8,1308.0h14.0M692.8,1301.0v14.0M687.9,1303.0l9.9,9.9M687.9,1313.0l9.9,-9.9"/><path stroke="#62b64a" d="M704.3,1312.2h14.0M711.3,1305.2v14.0M706.3,1307.2l9.9,9.9M706.3,1317.2l9.9,-9.9"/><path stroke="#62b64a" d="M722.7,1305.0h14.0M729.7,1298.0v14.0M724.8,1300.0l9.9,9.9M724.8,1310.0l9.9,-9.9"/><path stroke="#62b64a" d="M741.2,1305.0h14.0M748.2,1298.0v14.0M743.3,1300.0l9.9,9.9M743.3,1310.0l9.9,-9.9"/><path stroke="#62b64a" d="M759.7,1300.0h14.0M766.7,1293.0v14.0M761.7,1295.0l9.9,9.9M761.7,1305.0l9.9,-9.9"/><path stroke="#62b64a" d="M778.2,1298.6h14.0M785.2,1291.6v14.0M780.2,1293.6l9.9,9.9M780.2,1303.5l9.9,-9.9"/><path stroke="#62b64a" d="M796.6,1310.0h14.0M803.6,1303.0v14.0M798.7,1305.0l9.9,9.9M798.7,1315.0l9.9,-9.9"/><path stroke="#62b64a" d="M815.1,1315.5h14.0M822.1,1308.5v14.0M817.1,1310.5l9.9,9.9M817.1,1320.5l9.9,-9.9"/>
<polyline stroke="#62c2dc" points="83.3,1076.7 101.8,916.0 120.2,1033.2 138.7,1105.2 157.2,1168.0 175.6,1175.0 194.1,1158.0 212.6,1158.0 231.1,1142.6 249.5,1118.2 268.0,1145.7 286.5,1192.0 304.9,1192.0 323.4,1187.0 341.9,1215.0 360.3,1219.0 378.8,1195.0 397.3,1211.0 415.8,1259.6 434.2,1286.0 452.7,1274.0 471.2,1267.0 489.6,1270.5 508.1,1277.0 526.6,1282.0 545.0,1304.0 563.5,1290.0 582.0,1285.2 600.5,1282.7 618.9,1290.0 637.4,1285.0 655.9,1286.4 674.3,1290.0 692.8,1290.0 711.3,1295.0 729.7,1298.0 748.2,1300.0 766.7,1290.0 785.2,1280.3 803.6,1280.0 822.1,1282.4"/>
<circle cx="83.3" cy="1076.7" r="6.7" stroke="#62c2dc"/><circle cx="101.8" cy="916.0" r="6.7" stroke="#62c2dc"/><circle cx="120.2" cy="1033.2" r="6.7" stroke="#62c2dc"/><circle cx="138.7" cy="1105.2" r="6.7" stroke="#62c2dc"/><circle cx="157.2" cy="1168.0" r="6.7" stroke="#62c2dc"/><circle cx="175.6" cy="1175.0" r="6.7" stroke="#62c2dc"/><circle cx="194.1" cy="1158.0" r="6.7" stroke="#62c2dc"/><circle cx="212.6" cy="1158.0" r="6.7" stroke="#62c2dc"/><circle cx="231.1" cy="1142.6" r="6.7" stroke="#62c2dc"/><circle cx="249.5" cy="1118.2" r="6.7" stroke="#62c2dc"/><circle cx="268.0" cy="1145.7" r="6.7" stroke="#62c2dc"/><circle cx="286.5" cy="1192.0" r="6.7" stroke="#62c2dc"/><circle cx="304.9" cy="1192.0" r="6.7" stroke="#62c2dc"/><circle cx="323.4" cy="1187.0" r="6.7" stroke="#62c2dc"/><circle cx="341.9" cy="1215.0" r="6.7" stroke="#62c2dc"/><circle cx="360.3" cy="1219.0" r="6.7" stroke="#62c2dc"/><circle cx="378.8" cy="1195.0" r="6.7" stroke="#62c2dc"/><circle cx="397.3" cy="1211.0" r="6.7" stroke="#62c2dc"/><circle cx="415.8" cy="1259.6" r="6.7" stroke="#62c2dc"/><circle cx="434.2" cy="1286.0" r="6.7" stroke="#62c2dc"/><circle cx="452.7" cy="1274.0" r="6.7" stroke="#62c2dc"/><circle cx="471.2" cy="1267.0" r="6.7" stroke="#62c2dc"/><circle cx="489.6" cy="1270.5" r="6.7" stroke="#62c2dc"/><circle cx="508.1" cy="1277.0" r="6.7" stroke="#62c2dc"/><circle cx="526.6" cy="1282.0" r="6.7" stroke="#62c2dc"/><circle cx="545.0" cy="1304.0" r="6.7" stroke="#62c2dc"/><circle cx="563.5" cy="1290.0" r="6.7" stroke="#62c2dc"/><circle cx="582.0" cy="1285.2" r="6.7" stroke="#62c2dc"/><circle cx="600.5" cy="1282.7" r="6.7" stroke="#62c2dc"/><circle cx="618.9" cy="1290.0" r="6.7" stroke="#62c2dc"/><circle cx="637.4" cy="1285.0" r="6.7" stroke="#62c2dc"/><circle cx="655.9" cy="1286.4" r="6.7" stroke="#62c2dc"/><circle cx="674.3" cy="1290.0" r="6.7" stroke="#62c2dc"/><circle cx="692.8" cy="1290.0" r="6.7" stroke="#62c2dc"/><circle cx="711.3" cy="1295.0" r="6.7" stroke="#62c2dc"/><circle cx="729.7" cy="1298.0" r="6.7" stroke="#62c2dc"/><circle cx="748.2" cy="1300.0" r="6.7" stroke="#62c2dc"/><circle cx="766.7" cy="1290.0" r="6.7" stroke="#62c2dc"/><circle cx="785.2" cy="1280.3" r="6.7" stroke="#62c2dc"/><circle cx="803.6" cy="1280.0" r="6.7" stroke="#62c2dc"/><circle cx="822.1" cy="1282.4" r="6.7" stroke="#62c2dc"/>
<polyline stroke="#62c2dc" points="83.3,1008.5 101.8,823.4 120.2,1047.6 138.7,1115.0 157.2,1155.0 175.6,1163.0 194.1,1096.7 212.6,1042.0 231.1,1072.7 249.5,1112.0 268.0,1145.7 286.5,1190.0 304.9,1197.0 323.4,1195.0 341.9,1205.0 360.3,1207.0 378.8,1197.0 397.3,1214.0 415.8,1245.0 434.2,1245.0 452.7,1250.5 471.2,1281.0 489.6,1297.0 508.1,1298.0 526.6,1290.0 545.0,1276.0 563.5,1280.0 582.0,1285.0 600.5,1280.0 618.9,1267.0 637.4,1255.3 655.9,1270.2 674.3,1289.0 692.8,1295.0 711.3,1300.0 729.7,1298.0 748.2,1305.0 766.7,1300.0 785.2,1319.8 803.6,1300.0 822.1,1300.0"/>
<path stroke="#62c2dc" d="M76.3,1008.5h14.0M83.3,1001.5v14.0M78.3,1003.5l9.9,9.9M78.3,1013.5l9.9,-9.9"/><path stroke="#62c2dc" d="M94.8,823.4h14.0M101.8,816.4v14.0M96.8,818.4l9.9,9.9M96.8,828.4l9.9,-9.9"/><path stroke="#62c2dc" d="M113.2,1047.6h14.0M120.2,1040.6v14.0M115.3,1042.6l9.9,9.9M115.3,1052.5l9.9,-9.9"/><path stroke="#62c2dc" d="M131.7,1115.0h14.0M138.7,1108.0v14.0M133.8,1110.0l9.9,9.9M133.8,1120.0l9.9,-9.9"/><path stroke="#62c2dc" d="M150.2,1155.0h14.0M157.2,1148.0v14.0M152.2,1150.0l9.9,9.9M152.2,1160.0l9.9,-9.9"/><path stroke="#62c2dc" d="M168.6,1163.0h14.0M175.6,1156.0v14.0M170.7,1158.0l9.9,9.9M170.7,1168.0l9.9,-9.9"/><path stroke="#62c2dc" d="M187.1,1096.7h14.0M194.1,1089.7v14.0M189.2,1091.8l9.9,9.9M189.2,1101.7l9.9,-9.9"/><path stroke="#62c2dc" d="M205.6,1042.0h14.0M212.6,1035.0v14.0M207.6,1037.0l9.9,9.9M207.6,1047.0l9.9,-9.9"/><path stroke="#62c2dc" d="M224.1,1072.7h14.0M231.1,1065.7v14.0M226.1,1067.8l9.9,9.9M226.1,1077.7l9.9,-9.9"/><path stroke="#62c2dc" d="M242.5,1112.0h14.0M249.5,1105.0v14.0M244.6,1107.0l9.9,9.9M244.6,1117.0l9.9,-9.9"/><path stroke="#62c2dc" d="M261.0,1145.7h14.0M268.0,1138.7v14.0M263.1,1140.8l9.9,9.9M263.1,1150.7l9.9,-9.9"/><path stroke="#62c2dc" d="M279.5,1190.0h14.0M286.5,1183.0v14.0M281.5,1185.0l9.9,9.9M281.5,1195.0l9.9,-9.9"/><path stroke="#62c2dc" d="M297.9,1197.0h14.0M304.9,1190.0v14.0M300.0,1192.0l9.9,9.9M300.0,1202.0l9.9,-9.9"/><path stroke="#62c2dc" d="M316.4,1195.0h14.0M323.4,1188.0v14.0M318.5,1190.0l9.9,9.9M318.5,1200.0l9.9,-9.9"/><path stroke="#62c2dc" d="M334.9,1205.0h14.0M341.9,1198.0v14.0M336.9,1200.0l9.9,9.9M336.9,1210.0l9.9,-9.9"/><path stroke="#62c2dc" d="M353.3,1207.0h14.0M360.3,1200.0v14.0M355.4,1202.0l9.9,9.9M355.4,1212.0l9.9,-9.9"/><path stroke="#62c2dc" d="M371.8,1197.0h14.0M378.8,1190.0v14.0M373.9,1192.0l9.9,9.9M373.9,1202.0l9.9,-9.9"/><path stroke="#62c2dc" d="M390.3,1214.0h14.0M397.3,1207.0v14.0M392.3,1209.0l9.9,9.9M392.3,1219.0l9.9,-9.9"/><path stroke="#62c2dc" d="M408.8,1245.0h14.0M415.8,1238.0v14.0M410.8,1240.0l9.9,9.9M410.8,1250.0l9.9,-9.9"/><path stroke="#62c2dc" d="M427.2,1245.0h14.0M434.2,1238.0v14.0M429.3,1240.0l9.9,9.9M429.3,1250.0l9.9,-9.9"/><path stroke="#62c2dc" d="M445.7,1250.5h14.0M452.7,1243.5v14.0M447.8,1245.5l9.9,9.9M447.8,1255.5l9.9,-9.9"/><path stroke="#62c2dc" d="M464.2,1281.0h14.0M471.2,1274.0v14.0M466.2,1276.0l9.9,9.9M466.2,1286.0l9.9,-9.9"/><path stroke="#62c2dc" d="M482.6,1297.0h14.0M489.6,1290.0v14.0M484.7,1292.0l9.9,9.9M484.7,1302.0l9.9,-9.9"/><path stroke="#62c2dc" d="M501.1,1298.0h14.0M508.1,1291.0v14.0M503.2,1293.0l9.9,9.9M503.2,1303.0l9.9,-9.9"/><path stroke="#62c2dc" d="M519.6,1290.0h14.0M526.6,1283.0v14.0M521.6,1285.0l9.9,9.9M521.6,1295.0l9.9,-9.9"/><path stroke="#62c2dc" d="M538.0,1276.0h14.0M545.0,1269.0v14.0M540.1,1271.0l9.9,9.9M540.1,1281.0l9.9,-9.9"/><path stroke="#62c2dc" d="M556.5,1280.0h14.0M563.5,1273.0v14.0M558.6,1275.0l9.9,9.9M558.6,1285.0l9.9,-9.9"/><path stroke="#62c2dc" d="M575.0,1285.0h14.0M582.0,1278.0v14.0M577.0,1280.0l9.9,9.9M577.0,1290.0l9.9,-9.9"/><path stroke="#62c2dc" d="M593.5,1280.0h14.0M600.5,1273.0v14.0M595.5,1275.0l9.9,9.9M595.5,1285.0l9.9,-9.9"/><path stroke="#62c2dc" d="M611.9,1267.0h14.0M618.9,1260.0v14.0M614.0,1262.0l9.9,9.9M614.0,1272.0l9.9,-9.9"/><path stroke="#62c2dc" d="M630.4,1255.3h14.0M637.4,1248.3v14.0M632.4,1250.3l9.9,9.9M632.4,1260.2l9.9,-9.9"/><path stroke="#62c2dc" d="M648.9,1270.2h14.0M655.9,1263.2v14.0M650.9,1265.2l9.9,9.9M650.9,1275.2l9.9,-9.9"/><path stroke="#62c2dc" d="M667.3,1289.0h14.0M674.3,1282.0v14.0M669.4,1284.0l9.9,9.9M669.4,1294.0l9.9,-9.9"/><path stroke="#62c2dc" d="M685.8,1295.0h14.0M692.8,1288.0v14.0M687.9,1290.0l9.9,9.9M687.9,1300.0l9.9,-9.9"/><path stroke="#62c2dc" d="M704.3,1300.0h14.0M711.3,1293.0v14.0M706.3,1295.0l9.9,9.9M706.3,1305.0l9.9,-9.9"/><path stroke="#62c2dc" d="M722.7,1298.0h14.0M729.7,1291.0v14.0M724.8,1293.0l9.9,9.9M724.8,1303.0l9.9,-9.9"/><path stroke="#62c2dc" d="M741.2,1305.0h14.0M748.2,1298.0v14.0M743.3,1300.0l9.9,9.9M743.3,1310.0l9.9,-9.9"/><path stroke="#62c2dc" d="M759.7,1300.0h14.0M766.7,1293.0v14.0M761.7,1295.0l9.9,9.9M761.7,1305.0l9.9,-9.9"/><path stroke="#62c2dc" d="M778.2,1319.8h14.0M785.2,1312.8v14.0M780.2,1314.8l9.9,9.9M780.2,1324.8l9.9,-9.9"/><path stroke="#62c2dc" d="M796.6,1300.0h14.0M803.6,1293.0v14.0M798.7,1295.0l9.9,9.9M798.7,1305.0l9.9,-9.9"/><path stroke="#62c2dc" d="M815.1,1300.0h14.0M822.1,1293.0v14.0M817.1,1295.0l9.9,9.9M817.1,1305.0l9.9,-9.9"/>
<polyline stroke="#151515" points="83.3,1107.2 101.8,961.6 120.2,1102.6 138.7,1142.1 157.2,1183.8 175.6,1197.0 194.1,1163.0 212.6,1137.3 231.1,1130.4 249.5,1144.2 268.0,1157.1 286.5,1191.5 304.9,1209.0 323.4,1195.6 341.9,1197.9 360.3,1219.3 378.8,1233.0 397.3,1236.9 415.8,1243.0 434.2,1245.5 452.7,1265.4 471.2,1274.6 489.6,1285.3 508.1,1277.6 526.6,1277.8 545.0,1292.4 563.5,1300.0 582.0,1298.5 600.5,1287.1 618.9,1281.0 637.4,1293.5 655.9,1305.8 674.3,1304.5 692.8,1301.9 711.3,1291.5 729.7,1278.9 748.2,1285.2 766.7,1295.8 785.2,1287.3 803.6,1278.1 822.1,1295.1"/>
<circle cx="83.3" cy="1107.2" r="6.7" stroke="#151515"/><circle cx="101.8" cy="961.6" r="6.7" stroke="#151515"/><circle cx="120.2" cy="1102.6" r="6.7" stroke="#151515"/><circle cx="138.7" cy="1142.1" r="6.7" stroke="#151515"/><circle cx="157.2" cy="1183.8" r="6.7" stroke="#151515"/><circle cx="175.6" cy="1197.0" r="6.7" stroke="#151515"/><circle cx="194.1" cy="1163.0" r="6.7" stroke="#151515"/><circle cx="212.6" cy="1137.3" r="6.7" stroke="#151515"/><circle cx="231.1" cy="1130.4" r="6.7" stroke="#151515"/><circle cx="249.5" cy="1144.2" r="6.7" stroke="#151515"/><circle cx="268.0" cy="1157.1" r="6.7" stroke="#151515"/><circle cx="286.5" cy="1191.5" r="6.7" stroke="#151515"/><circle cx="304.9" cy="1209.0" r="6.7" stroke="#151515"/><circle cx="323.4" cy="1195.6" r="6.7" stroke="#151515"/><circle cx="341.9" cy="1197.9" r="6.7" stroke="#151515"/><circle cx="360.3" cy="1219.3" r="6.7" stroke="#151515"/><circle cx="378.8" cy="1233.0" r="6.7" stroke="#151515"/><circle cx="397.3" cy="1236.9" r="6.7" stroke="#151515"/><circle cx="415.8" cy="1243.0" r="6.7" stroke="#151515"/><circle cx="434.2" cy="1245.5" r="6.7" stroke="#151515"/><circle cx="452.7" cy="1265.4" r="6.7" stroke="#151515"/><circle cx="471.2" cy="1274.6" r="6.7" stroke="#151515"/><circle cx="489.6" cy="1285.3" r="6.7" stroke="#151515"/><circle cx="508.1" cy="1277.6" r="6.7" stroke="#151515"/><circle cx="526.6" cy="1277.8" r="6.7" stroke="#151515"/><circle cx="545.0" cy="1292.4" r="6.7" stroke="#151515"/><circle cx="563.5" cy="1300.0" r="6.7" stroke="#151515"/><circle cx="582.0" cy="1298.5" r="6.7" stroke="#151515"/><circle cx="600.5" cy="1287.1" r="6.7" stroke="#151515"/><circle cx="618.9" cy="1281.0" r="6.7" stroke="#151515"/><circle cx="637.4" cy="1293.5" r="6.7" stroke="#151515"/><circle cx="655.9" cy="1305.8" r="6.7" stroke="#151515"/><circle cx="674.3" cy="1304.5" r="6.7" stroke="#151515"/><circle cx="692.8" cy="1301.9" r="6.7" stroke="#151515"/><circle cx="711.3" cy="1291.5" r="6.7" stroke="#151515"/><circle cx="729.7" cy="1278.9" r="6.7" stroke="#151515"/><circle cx="748.2" cy="1285.2" r="6.7" stroke="#151515"/><circle cx="766.7" cy="1295.8" r="6.7" stroke="#151515"/><circle cx="785.2" cy="1287.3" r="6.7" stroke="#151515"/><circle cx="803.6" cy="1278.1" r="6.7" stroke="#151515"/><circle cx="822.1" cy="1295.1" r="6.7" stroke="#151515"/>
<polyline stroke="#151515" points="83.3,1132.4 101.8,1011.0 120.2,1132.4 138.7,1127.9 157.2,1110.8 175.6,1151.6 194.1,1164.8 212.6,1168.6 231.1,1179.3 249.5,1186.9 268.0,1183.1 286.5,1164.0 304.9,1187.0 323.4,1230.0 341.9,1239.2 360.3,1226.9 378.8,1221.6 397.3,1237.6 415.8,1233.2 434.2,1224.9 452.7,1216.5 471.2,1221.9 489.6,1250.1 508.1,1270.0 526.6,1278.6 545.0,1288.6 563.5,1291.7 582.0,1269.5 600.5,1251.2 618.9,1248.9 637.4,1263.1 655.9,1283.1 674.3,1278.0 692.8,1286.4 711.3,1301.9 729.7,1307.0 748.2,1303.5 766.7,1279.6 785.2,1270.4 803.6,1291.5 822.1,1295.1"/>
<path stroke="#151515" d="M76.3,1132.4h14.0M83.3,1125.4v14.0M78.3,1127.5l9.9,9.9M78.3,1137.4l9.9,-9.9"/><path stroke="#151515" d="M94.8,1011.0h14.0M101.8,1004.0v14.0M96.8,1006.0l9.9,9.9M96.8,1016.0l9.9,-9.9"/><path stroke="#151515" d="M113.2,1132.4h14.0M120.2,1125.4v14.0M115.3,1127.5l9.9,9.9M115.3,1137.4l9.9,-9.9"/><path stroke="#151515" d="M131.7,1127.9h14.0M138.7,1120.9v14.0M133.8,1123.0l9.9,9.9M133.8,1132.9l9.9,-9.9"/><path stroke="#151515" d="M150.2,1110.8h14.0M157.2,1103.8v14.0M152.2,1105.8l9.9,9.9M152.2,1115.8l9.9,-9.9"/><path stroke="#151515" d="M168.6,1151.6h14.0M175.6,1144.6v14.0M170.7,1146.6l9.9,9.9M170.7,1156.5l9.9,-9.9"/><path stroke="#151515" d="M187.1,1164.8h14.0M194.1,1157.8v14.0M189.2,1159.8l9.9,9.9M189.2,1169.8l9.9,-9.9"/><path stroke="#151515" d="M205.6,1168.6h14.0M212.6,1161.6v14.0M207.6,1163.6l9.9,9.9M207.6,1173.5l9.9,-9.9"/><path stroke="#151515" d="M224.1,1179.3h14.0M231.1,1172.3v14.0M226.1,1174.3l9.9,9.9M226.1,1184.2l9.9,-9.9"/><path stroke="#151515" d="M242.5,1186.9h14.0M249.5,1179.9v14.0M244.6,1182.0l9.9,9.9M244.6,1191.9l9.9,-9.9"/><path stroke="#151515" d="M261.0,1183.1h14.0M268.0,1176.1v14.0M263.1,1178.1l9.9,9.9M263.1,1188.0l9.9,-9.9"/><path stroke="#151515" d="M279.5,1164.0h14.0M286.5,1157.0v14.0M281.5,1159.0l9.9,9.9M281.5,1169.0l9.9,-9.9"/><path stroke="#151515" d="M297.9,1187.0h14.0M304.9,1180.0v14.0M300.0,1182.0l9.9,9.9M300.0,1192.0l9.9,-9.9"/><path stroke="#151515" d="M316.4,1230.0h14.0M323.4,1223.0v14.0M318.5,1225.0l9.9,9.9M318.5,1235.0l9.9,-9.9"/><path stroke="#151515" d="M334.9,1239.2h14.0M341.9,1232.2v14.0M336.9,1234.2l9.9,9.9M336.9,1244.2l9.9,-9.9"/><path stroke="#151515" d="M353.3,1226.9h14.0M360.3,1219.9v14.0M355.4,1222.0l9.9,9.9M355.4,1231.9l9.9,-9.9"/><path stroke="#151515" d="M371.8,1221.6h14.0M378.8,1214.6v14.0M373.9,1216.6l9.9,9.9M373.9,1226.5l9.9,-9.9"/><path stroke="#151515" d="M390.3,1237.6h14.0M397.3,1230.6v14.0M392.3,1232.6l9.9,9.9M392.3,1242.5l9.9,-9.9"/><path stroke="#151515" d="M408.8,1233.2h14.0M415.8,1226.2v14.0M410.8,1228.2l9.9,9.9M410.8,1238.2l9.9,-9.9"/><path stroke="#151515" d="M427.2,1224.9h14.0M434.2,1217.9v14.0M429.3,1220.0l9.9,9.9M429.3,1229.9l9.9,-9.9"/><path stroke="#151515" d="M445.7,1216.5h14.0M452.7,1209.5v14.0M447.8,1211.5l9.9,9.9M447.8,1221.5l9.9,-9.9"/><path stroke="#151515" d="M464.2,1221.9h14.0M471.2,1214.9v14.0M466.2,1217.0l9.9,9.9M466.2,1226.9l9.9,-9.9"/><path stroke="#151515" d="M482.6,1250.1h14.0M489.6,1243.1v14.0M484.7,1245.1l9.9,9.9M484.7,1255.0l9.9,-9.9"/><path stroke="#151515" d="M501.1,1270.0h14.0M508.1,1263.0v14.0M503.2,1265.0l9.9,9.9M503.2,1275.0l9.9,-9.9"/><path stroke="#151515" d="M519.6,1278.6h14.0M526.6,1271.6v14.0M521.6,1273.6l9.9,9.9M521.6,1283.5l9.9,-9.9"/><path stroke="#151515" d="M538.0,1288.6h14.0M545.0,1281.6v14.0M540.1,1283.6l9.9,9.9M540.1,1293.5l9.9,-9.9"/><path stroke="#151515" d="M556.5,1291.7h14.0M563.5,1284.7v14.0M558.6,1286.8l9.9,9.9M558.6,1296.7l9.9,-9.9"/><path stroke="#151515" d="M575.0,1269.5h14.0M582.0,1262.5v14.0M577.0,1264.5l9.9,9.9M577.0,1274.5l9.9,-9.9"/><path stroke="#151515" d="M593.5,1251.2h14.0M600.5,1244.2v14.0M595.5,1246.2l9.9,9.9M595.5,1256.2l9.9,-9.9"/><path stroke="#151515" d="M611.9,1248.9h14.0M618.9,1241.9v14.0M614.0,1244.0l9.9,9.9M614.0,1253.9l9.9,-9.9"/><path stroke="#151515" d="M630.4,1263.1h14.0M637.4,1256.1v14.0M632.4,1258.1l9.9,9.9M632.4,1268.0l9.9,-9.9"/><path stroke="#151515" d="M648.9,1283.1h14.0M655.9,1276.1v14.0M650.9,1278.1l9.9,9.9M650.9,1288.0l9.9,-9.9"/><path stroke="#151515" d="M667.3,1278.0h14.0M674.3,1271.0v14.0M669.4,1273.0l9.9,9.9M669.4,1283.0l9.9,-9.9"/><path stroke="#151515" d="M685.8,1286.4h14.0M692.8,1279.4v14.0M687.9,1281.5l9.9,9.9M687.9,1291.4l9.9,-9.9"/><path stroke="#151515" d="M704.3,1301.9h14.0M711.3,1294.9v14.0M706.3,1297.0l9.9,9.9M706.3,1306.9l9.9,-9.9"/><path stroke="#151515" d="M722.7,1307.0h14.0M729.7,1300.0v14.0M724.8,1302.0l9.9,9.9M724.8,1312.0l9.9,-9.9"/><path stroke="#151515" d="M741.2,1303.5h14.0M748.2,1296.5v14.0M743.3,1298.5l9.9,9.9M743.3,1308.5l9.9,-9.9"/><path stroke="#151515" d="M759.7,1279.6h14.0M766.7,1272.6v14.0M761.7,1274.6l9.9,9.9M761.7,1284.5l9.9,-9.9"/><path stroke="#151515" d="M778.2,1270.4h14.0M785.2,1263.4v14.0M780.2,1265.5l9.9,9.9M780.2,1275.4l9.9,-9.9"/><path stroke="#151515" d="M796.6,1291.5h14.0M803.6,1284.5v14.0M798.7,1286.5l9.9,9.9M798.7,1296.5l9.9,-9.9"/><path stroke="#151515" d="M815.1,1295.1h14.0M822.1,1288.1v14.0M817.1,1290.1l9.9,9.9M817.1,1300.0l9.9,-9.9"/>
</g>
<g stroke="#333333" stroke-width="1.4" fill="none">
<rect x="83.3" y="803.9" width="756.3" height="605.0"/>
<path d="M177.8,1408.9v-8M177.8,803.9v8M272.4,1408.9v-8M272.4,803.9v8M366.9,1408.9v-8M366.9,803.9v8M461.5,1408.9v-8M461.5,803.9v8M556.0,1408.9v-8M556.0,803.9v8M650.5,1408.9v-8M650.5,803.9v8M745.1,1408.9v-8M745.1,803.9v8M83.3,1348.4h8M839.6,1348.4h-8M83.3,1287.9h8M839.6,1287.9h-8M83.3,1227.3h8M839.6,1227.3h-8M83.3,1166.8h8M839.6,1166.8h-8M83.3,1106.3h8M839.6,1106.3h-8M83.3,1045.8h8M839.6,1045.8h-8M83.3,985.3h8M839.6,985.3h-8M83.3,924.7h8M839.6,924.7h-8M83.3,864.2h8M839.6,864.2h-8"/>
</g>
<text x="76.50" y="1431.00" font-size="13.4">0</text>
<text x="161.50" y="1431.00" font-size="13.4">0.5</text>
<text x="266.50" y="1431.00" font-size="13.4">1</text>
<text x="351.00" y="1431.00" font-size="13.4">1.5</text>
<text x="455.00" y="1431.00" font-size="13.4">2</text>
<text x="539.00" y="1431.00" font-size="13.4">2.5</text>
<text x="644.30" y="1431.00" font-size="13.4">3</text>
<text x="728.80" y="1431.00" font-size="13.4">3.5</text>
<text x="833.70" y="1431.00" font-size="13.4">4</text>
<text x="60.50" y="1406.60" font-size="13.4">0</text>
<text x="41.00" y="1346.08" font-size="13.4">0.2</text>
<text x="41.00" y="1285.56" font-size="13.4">0.4</text>
<text x="41.00" y="1225.04" font-size="13.4">0.6</text>
<text x="41.00" y="1164.52" font-size="13.4">0.8</text>
<text x="60.50" y="1104.00" font-size="13.4">1</text>
<text x="41.00" y="1043.48" font-size="13.4">1.2</text>
<text x="41.00" y="982.96" font-size="13.4">1.4</text>
<text x="41.00" y="922.44" font-size="13.4">1.6</text>
<text x="41.00" y="861.92" font-size="13.4">1.8</text>
<text x="60.50" y="801.40" font-size="13.4">2</text>
<text x="374.00" y="1467.10" font-size="15.3">Frequency (Hz)</text>
<text transform="translate(18.0,1309.3) rotate(-90)" x="0" y="0" font-size="15.5">Power Spectral Density (PSD/Hz, mean re: percent total power)</text>
<rect x="587.4" y="824.8" width="192.5" height="298.1" fill="#fff" stroke="#333333" stroke-width="1.4"/>
<g fill="none" stroke-width="1.5">
<line x1="594.8" y1="842.1" x2="664.4" y2="842.1" stroke="#3c48a8"/>
<circle cx="629.4" cy="842.1" r="6.7" stroke="#3c48a8"/>
<line x1="594.8" y1="871.3" x2="664.4" y2="871.3" stroke="#3c48a8"/>
<path stroke="#3c48a8" d="M622.4,871.3h14.0M629.4,864.3v14.0M624.4,866.4l9.9,9.9M624.4,876.3l9.9,-9.9"/>
<line x1="594.8" y1="900.5" x2="664.4" y2="900.5" stroke="#dc3c2c"/>
<circle cx="629.4" cy="900.5" r="6.7" stroke="#dc3c2c"/>
<line x1="594.8" y1="929.7" x2="664.4" y2="929.7" stroke="#dc3c2c"/>
<path stroke="#dc3c2c" d="M622.4,929.7h14.0M629.4,922.7v14.0M624.4,924.8l9.9,9.9M624.4,934.7l9.9,-9.9"/>
<line x1="594.8" y1="958.9" x2="664.4" y2="958.9" stroke="#62b64a"/>
<circle cx="629.4" cy="958.9" r="6.7" stroke="#62b64a"/>
<line x1="594.8" y1="988.1" x2="664.4" y2="988.1" stroke="#62b64a"/>
<path stroke="#62b64a" d="M622.4,988.1h14.0M629.4,981.1v14.0M624.4,983.1l9.9,9.9M624.4,993.1l9.9,-9.9"/>
<line x1="594.8" y1="1017.3" x2="664.4" y2="1017.3" stroke="#62c2dc"/>
<circle cx="629.4" cy="1017.3" r="6.7" stroke="#62c2dc"/>
<line x1="594.8" y1="1046.5" x2="664.4" y2="1046.5" stroke="#62c2dc"/>
<path stroke="#62c2dc" d="M622.4,1046.5h14.0M629.4,1039.5v14.0M624.4,1041.5l9.9,9.9M624.4,1051.5l9.9,-9.9"/>
<line x1="594.8" y1="1075.7" x2="664.4" y2="1075.7" stroke="#151515"/>
<circle cx="629.4" cy="1075.7" r="6.7" stroke="#151515"/>
<line x1="594.8" y1="1104.9" x2="664.4" y2="1104.9" stroke="#151515"/>
<path stroke="#151515" d="M622.4,1104.9h14.0M629.4,1097.9v14.0M624.4,1100.0l9.9,9.9M624.4,1109.9l9.9,-9.9"/>
</g>
<text x="670.10" y="842.10" font-size="12.2">0.07 Hz T1</text>
<text x="670.10" y="871.30" font-size="12.2">0.07 Hz T2</text>
<text x="670.10" y="900.50" font-size="12.2">0.1 Hz T1</text>
<text x="670.10" y="929.70" font-size="12.2">0.1 Hz T2</text>
<text x="670.10" y="958.90" font-size="12.2">0.13 Hz T1</text>
<text x="670.10" y="988.10" font-size="12.2">0.13 Hz T2</text>
<text x="670.10" y="1017.30" font-size="12.2">0.17 Hz T1</text>
<text x="670.10" y="1046.50" font-size="12.2">0.17 Hz T2</text>
<text x="670.10" y="1075.70" font-size="12.2">0.2 Hz T1</text>
<text x="670.10" y="1104.90" font-size="12.2">0.2 Hz T2</text>
</svg></body></html>
